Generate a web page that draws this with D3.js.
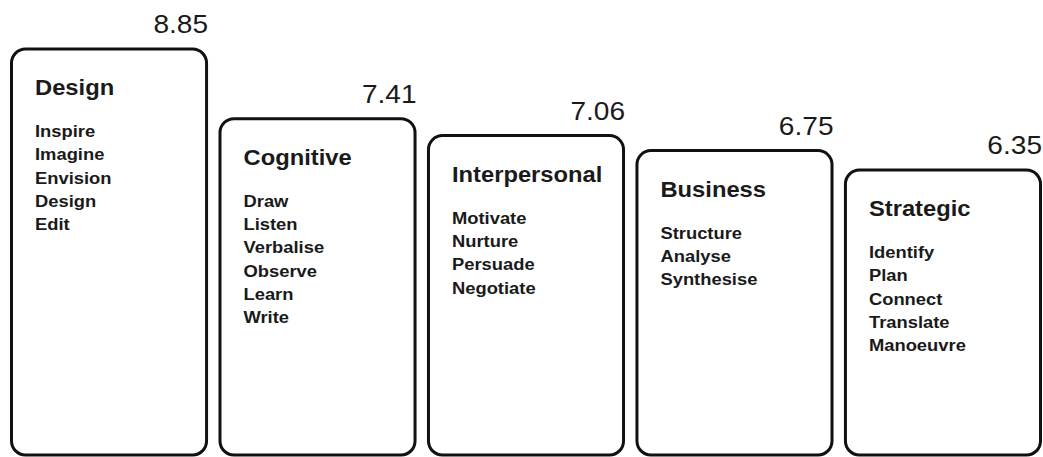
<!DOCTYPE html>
<html>
<head>
<meta charset="utf-8">
<script src="https://cdn.jsdelivr.net/npm/d3@7"></script>
<style>
  body { margin: 0; background: #fff; }
  svg { display: block; font-family: "Liberation Sans", Arial, sans-serif; }
</style>
</head>
<body>
<div id="chart"></div>
<script>
// skill groups and their scores
var categories = ['Design', 'Cognitive', 'Interpersonal', 'Business', 'Strategic'];
var scores = [8.85, 7.41, 7.06, 6.75, 6.35];
var skills = [
  ['Inspire', 'Imagine', 'Envision', 'Design', 'Edit'],
  ['Draw', 'Listen', 'Verbalise', 'Observe', 'Learn', 'Write'],
  ['Motivate', 'Nurture', 'Persuade', 'Negotiate'],
  ['Structure', 'Analyse', 'Synthesise'],
  ['Identify', 'Plan', 'Connect', 'Translate', 'Manoeuvre']
];

var width = 1043;
var height = 457;
var bottom = 455;
var stretch = 1.08; // the original's lettering is a bit wide

var svg = d3.select('#chart').append('svg')
  .attr('width', width)
  .attr('height', height);

var x = d3.scaleBand()
  .domain(categories)
  .range([10, 1042])
  .paddingInner(0.05);

// baseline is not zero in the original, the bars are offset
var y = d3.scaleLinear()
  .domain([0.46, 8.85])
  .range([bottom, 49]);

var data = categories.map(function(c, i) {
  return { name: c, score: scores[i], skills: skills[i] };
});

function place(tx, ty) {
  return 'translate(' + tx + ',' + ty + ') scale(' + stretch + ',1)';
}

var g = svg.selectAll('g.bar')
  .data(data)
  .enter().append('g')
  .attr('class', 'bar')
  .attr('transform', function(d) { return 'translate(' + x(d.name) + ',0)'; });

g.append('rect')
  .attr('x', 1.5)
  .attr('y', function(d) { return y(d.score); })
  .attr('width', x.bandwidth() - 3)
  .attr('height', function(d) { return bottom - y(d.score); })
  .attr('rx', 14)
  .attr('ry', 14)
  .style('fill', '#fff')
  .style('stroke', '#111')
  .style('stroke-width', 3);

g.append('text')
  .attr('transform', function(d) { return place(x.bandwidth(), y(d.score) - 16); })
  .attr('text-anchor', 'end')
  .style('font-size', '26px')
  .style('fill', '#1a1a1a')
  .text(function(d) { return d.score.toFixed(2); });

g.append('text')
  .attr('transform', function(d) { return place(25, y(d.score) + 46); })
  .style('font-size', '22px')
  .style('font-weight', 'bold')
  .style('fill', '#1a1a1a')
  .text(function(d) { return d.name; });

g.each(function(d) {
  var top = y(d.score);
  d3.select(this).selectAll('text.skill')
    .data(d.skills)
    .enter().append('text')
    .attr('class', 'skill')
    .attr('transform', function(s, j) { return place(25, top + 88 + j * 23.3); })
    .style('font-size', '17px')
    .style('font-weight', 'bold')
    .style('fill', '#1a1a1a')
    .text(function(s) { return s; });
});
</script>
</body>
</html>
